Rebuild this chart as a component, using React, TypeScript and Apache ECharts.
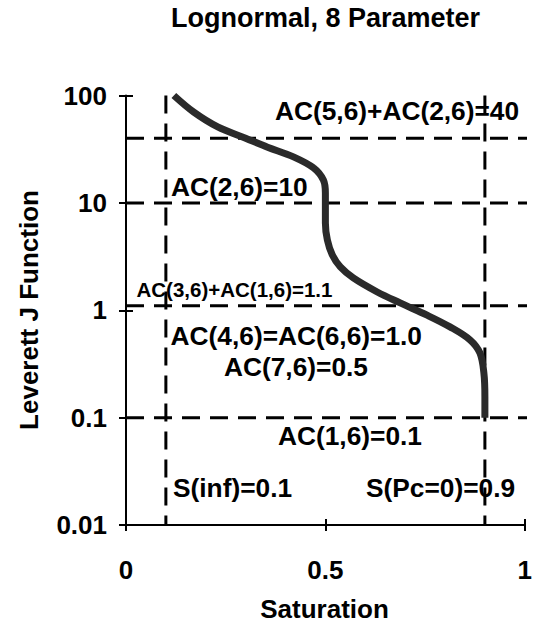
import React, { useEffect, useRef } from "react";
import * as echarts from "echarts";

// ---- data ----
const titleText = "Lognormal, 8 Parameter";
const xAxisName = "Saturation";
const yAxisName = "Leverett J Function";
const xTickValues = [0, 0.5, 1];
const yTickValues = [0.01, 0.1, 1, 10, 100];

const curveSat = [0.12, 0.17, 0.23, 0.3, 0.355, 0.42, 0.47, 0.495, 0.5, 0.5, 0.505, 0.5175, 0.5375, 0.57, 0.63, 0.6875, 0.755, 0.8125, 0.8625, 0.8875, 0.8975, 0.9, 0.9];
const curveJ = [100, 70, 51, 40, 33, 26.8, 21.2, 16.3, 12.3, 6.5, 4.52, 3.27, 2.53, 2.0, 1.48, 1.17, 0.9, 0.7, 0.53, 0.4, 0.26, 0.156, 0.1];

const hLevels = [40, 10, 1.1, 0.1];
const vLevels = [0.1, 0.9];
const hLineEnd = 1.025;

const annotationTexts = [
  "AC(5,6)+AC(2,6)=40",
  "AC(2,6)=10",
  "AC(3,6)+AC(1,6)=1.1",
  "AC(4,6)=AC(6,6)=1.0",
  "AC(7,6)=0.5",
  "AC(1,6)=0.1",
  "S(inf)=0.1",
  "S(Pc=0)=0.9",
];

const FONT = "'Liberation Sans', Arial, Helvetica, sans-serif";

export default function App() {
  const ref = useRef<HTMLDivElement>(null);

  useEffect(() => {
    if (!ref.current) return;
    const chart = echarts.init(ref.current, undefined, { renderer: "svg" });

    const annoLayout = [
      { x: 275, y: 111, size: 26.3 },
      { x: 171, y: 187, size: 26.3 },
      { x: 136.5, y: 289, size: 20.5 },
      { x: 170.6, y: 336, size: 26.3 },
      { x: 224, y: 367, size: 26.3 },
      { x: 278, y: 436, size: 26.3 },
      { x: 173, y: 488, size: 26.3 },
      { x: 366, y: 488, size: 26.3 },
    ];

    const txt = (text: string, x: number, y: number, size: number, align = "left", rotation = 0) => ({
      type: "text",
      x,
      y,
      rotation,
      z: 10,
      style: {
        text,
        fontSize: size,
        fontWeight: "bold",
        fontFamily: FONT,
        fill: "#000",
        align,
        verticalAlign: "middle",
        textAlign: align,
        textVerticalAlign: "middle",
      },
    });

    const fmt = (v: number) => String(Number(Number(v).toPrecision(6)));

    const dashStyle = { color: "#000", width: 3, type: [18, 10] as number[] };

    const series: any[] = [];
    hLevels.forEach((lvl) => {
      series.push({
        type: "line",
        data: [
          [0, lvl],
          [hLineEnd, lvl],
        ],
        clip: false,
        showSymbol: false,
        symbol: "none",
        silent: true,
        lineStyle: dashStyle,
        z: 2,
      });
    });
    vLevels.forEach((v) => {
      series.push({
        type: "line",
        data: [
          [v, yTickValues[yTickValues.length - 1]],
          [v, yTickValues[0]],
        ],
        clip: false,
        showSymbol: false,
        symbol: "none",
        silent: true,
        lineStyle: dashStyle,
        z: 2,
      });
    });
    series.push({
      type: "line",
      data: curveSat.map((s, i) => [s, curveJ[i]]),
      smooth: 0.35,
      showSymbol: false,
      symbol: "none",
      clip: false,
      lineStyle: { color: "#2a2a2a", width: 7, cap: "butt" },
      z: 5,
    });

    const baseX = {
      type: "value",
      min: xTickValues[0],
      max: xTickValues[xTickValues.length - 1],
      interval: 0.5,
      position: "bottom",
      splitLine: { show: false },
    };
    const baseY = {
      type: "log",
      logBase: 10,
      min: yTickValues[0],
      max: yTickValues[yTickValues.length - 1],
      position: "left",
      splitLine: { show: false },
    };

    chart.setOption({
      animation: false,
      backgroundColor: "#fff",
      grid: { left: 126, right: 10, top: 95.5, bottom: 98, containLabel: false },
      xAxis: [
        {
          ...baseX,
          axisLine: { show: true, onZero: false, lineStyle: { color: "#000", width: 2 } },
          axisTick: { show: true, inside: false, length: 6, lineStyle: { color: "#000", width: 2 } },
          axisLabel: {
            show: true,
            margin: 32,
            fontSize: 26,
            fontWeight: "bold",
            fontFamily: FONT,
            color: "#000",
            formatter: fmt,
          },
        },
        {
          ...baseX,
          axisLine: { show: false, onZero: false },
          axisTick: { show: true, inside: true, length: 6, lineStyle: { color: "#000", width: 2 } },
          axisLabel: { show: false },
        },
      ],
      yAxis: [
        {
          ...baseY,
          axisLine: { show: true, onZero: false, lineStyle: { color: "#000", width: 2 } },
          axisTick: { show: true, inside: false, length: 7, lineStyle: { color: "#000", width: 2 } },
          axisLabel: {
            show: true,
            margin: 19,
            fontSize: 26,
            fontWeight: "bold",
            fontFamily: FONT,
            color: "#000",
            formatter: fmt,
          },
        },
        {
          ...baseY,
          axisLine: { show: false, onZero: false },
          axisTick: { show: true, inside: true, length: 7, lineStyle: { color: "#000", width: 2 } },
          axisLabel: { show: false },
        },
      ],
      series,
      graphic: [
        txt(titleText, 325.5, 18, 27, "center"),
        txt(xAxisName, 324.5, 609, 26, "center"),
        txt(yAxisName, 28.5, 310, 26, "center", Math.PI / 2),
        ...annotationTexts.map((t, i) => txt(t, annoLayout[i].x, annoLayout[i].y, annoLayout[i].size)),
      ],
    });

    return () => {
      chart.dispose();
    };
  }, []);

  return (
    <div
      ref={ref}
      style={{ position: "fixed", left: 0, top: 0, width: 535, height: 623, background: "#fff" }}
    />
  );
}
